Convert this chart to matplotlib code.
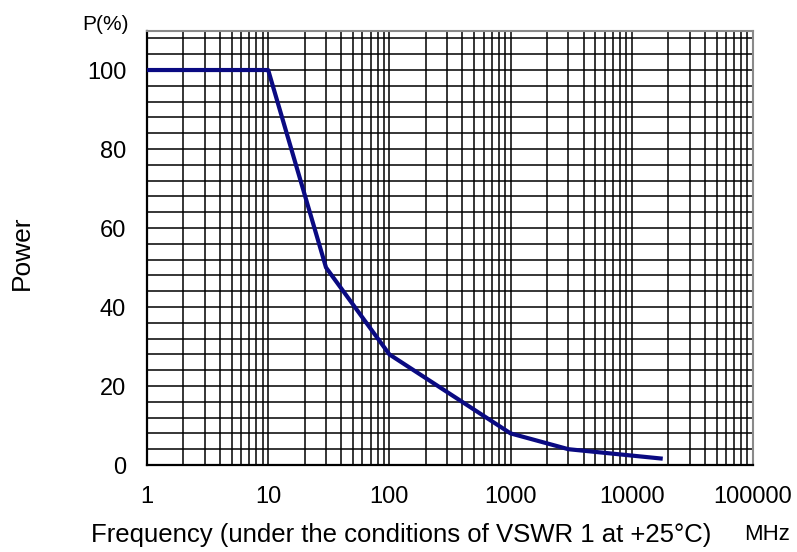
import numpy as np
import matplotlib
matplotlib.use("Agg")
import matplotlib.pyplot as plt
from matplotlib.ticker import FixedLocator, NullFormatter

# ── Data ────────────────────────────────────────────────
freq_mhz = [1, 10, 30, 100, 1000, 3000, 18000]
power_pct = [100, 100, 50, 28, 8, 4, 1.6]

x_ticks = [1, 10, 100, 1000, 10000, 100000]
x_tick_labels = ["1", "10", "100", "1000", "10000", "100000"]
y_ticks = [0, 20, 40, 60, 80, 100]

LINE_COLOR = "#0A0A82"
FONT = ["Liberation Sans", "DejaVu Sans"]

plt.rcParams["font.family"] = FONT

fig = plt.figure(figsize=(7.97, 5.52), dpi=100)
ax = fig.add_axes([0.1844, 0.1576, 0.7604, 0.7871])

ax.set_xscale("log")
ax.set_xlim(1, 100000)
ax.set_ylim(0, 110)

# grid: every decade sub-step on x, every 4 % on y
minor_x = [m * 10 ** d for d in range(5) for m in range(2, 10)]
ax.xaxis.set_major_locator(FixedLocator(x_ticks))
ax.xaxis.set_minor_locator(FixedLocator(minor_x))
ax.xaxis.set_minor_formatter(NullFormatter())
ax.set_xticklabels(x_tick_labels)
ax.set_yticks(y_ticks)
ax.set_yticks(np.arange(0, 110, 4), minor=True)

ax.grid(True, which="both", color="black", linewidth=1.1)
ax.set_axisbelow(True)
ax.tick_params(which="both", length=0)
ax.tick_params(axis="x", pad=15, labelsize=17)
ax.tick_params(axis="y", pad=15, labelsize=17)

for side in ["left", "bottom"]:
    ax.spines[side].set_color("black")
    ax.spines[side].set_linewidth(1.6)
for side in ["top", "right"]:
    ax.spines[side].set_color("#8a8a8a")
    ax.spines[side].set_linewidth(1.5)

ax.plot(freq_mhz, power_pct, color=LINE_COLOR, linewidth=3, solid_capstyle="butt", zorder=5)

# labels
fig.text(105 / 797, 1 - 24 / 552, "P(%)", ha="center", va="center", fontsize=15)
fig.text(22 / 797, 1 - 253 / 552, "Power", ha="center", va="center", fontsize=19, rotation=90)
fig.text(401 / 797, 1 - 535 / 552, "Frequency (under the conditions of VSWR 1 at +25°C)",
         ha="center", va="center", fontsize=18.5)
fig.text(767 / 797, 1 - 535 / 552, "MHz", ha="center", va="center", fontsize=16)

fig.savefig("out.png", dpi=100, facecolor="white")
